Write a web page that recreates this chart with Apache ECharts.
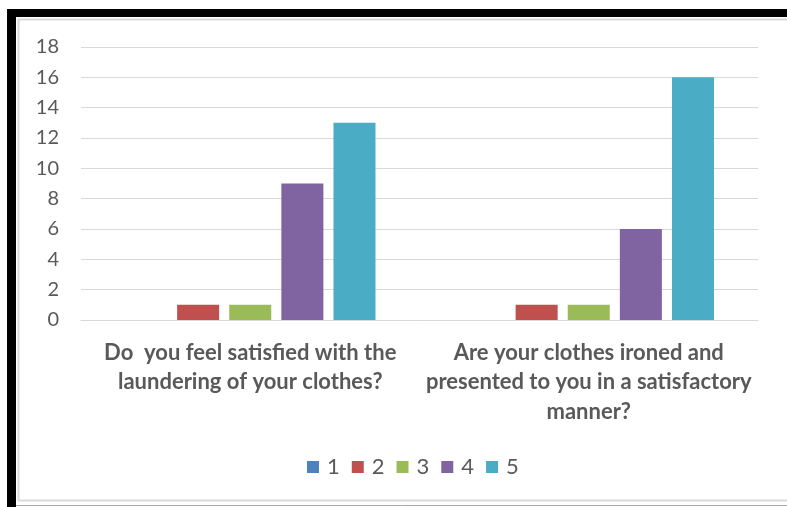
<!DOCTYPE html>
<html>
<head>
<meta charset="utf-8">
<script src="https://cdn.jsdelivr.net/npm/echarts@6/dist/echarts.min.js"></script>
<style>
html,body{margin:0;padding:0;background:#fff;}
#c{width:787px;height:507px;}
</style>
</head>
<body>
<div id="c"></div>
<script>
var categories = [
  "Do  you feel satisfied with the\nlaundering of your clothes?",
  "Are your clothes ironed and\npresented to you in a satisfactory\nmanner?"
];
var seriesNames = ["1", "2", "3", "4", "5"];
var values1 = [0, 0];
var values2 = [1, 1];
var values3 = [1, 1];
var values4 = [9, 6];
var values5 = [13, 16];
var yTicks = [0, 2, 4, 6, 8, 10, 12, 14, 16, 18];
var colors = ["#4F81BD", "#C0504D", "#9BBB59", "#8064A2", "#4BACC6"];

var allValues = [values1, values2, values3, values4, values5];
var textColor = "#595959";
var fontFam = "Lato, 'Open Sans', sans-serif";

var series = seriesNames.map(function (n, i) {
  return {
    name: n,
    type: "bar",
    data: allValues[i],
    itemStyle: { color: colors[i] },
    barGap: "24%",
    barCategoryGap: "26%"
  };
});

var chart = echarts.init(document.getElementById("c"), null, { renderer: "canvas" });
chart.setOption({
  animation: false,
  backgroundColor: "#ffffff",
  color: colors,
  grid: { left: 81, right: 29, top: 47, bottom: 187, containLabel: false },
  xAxis: {
    type: "category",
    data: categories,
    axisTick: { show: false },
    axisLine: { show: true, lineStyle: { color: "#D9D9D9", width: 1 } },
    axisLabel: {
      color: textColor,
      fontFamily: fontFam,
      fontWeight: "bold",
      fontSize: 22,
      lineHeight: 29.5,
      margin: 18,
      interval: 0
    }
  },
  yAxis: {
    type: "value",
    min: yTicks[0],
    max: yTicks[yTicks.length - 1],
    interval: yTicks[1] - yTicks[0],
    axisLine: { show: false },
    axisTick: { show: false },
    splitLine: { lineStyle: { color: "#D9D9D9", width: 1 } },
    axisLabel: {
      color: textColor,
      fontFamily: fontFam,
      fontSize: 20,
      margin: 22
    }
  },
  legend: {
    data: seriesNames,
    left: 302,
    top: 451,
    icon: "rect",
    itemWidth: 12,
    itemHeight: 12,
    itemGap: 12,
    textStyle: { color: textColor, fontFamily: fontFam, fontSize: 22, padding: [0, 0, 0, 3] }
  },
  graphic: [
    { type: "rect", silent: true, shape: { x: 7, y: 9, width: 780, height: 8 }, style: { fill: "#000" } },
    { type: "rect", silent: true, shape: { x: 7, y: 9, width: 9, height: 498 }, style: { fill: "#000" } },
    { type: "rect", silent: true, shape: { x: 18.5, y: 19.5, width: 800, height: 481 }, style: { fill: null, stroke: "#D9D9D9", lineWidth: 2 } },
    { type: "line", silent: true, shape: { x1: 16, y1: 505.5, x2: 787, y2: 505.5 }, style: { stroke: "#A6A6A6", lineWidth: 1 } }
  ],
  series: series
});
</script>
</body>
</html>
